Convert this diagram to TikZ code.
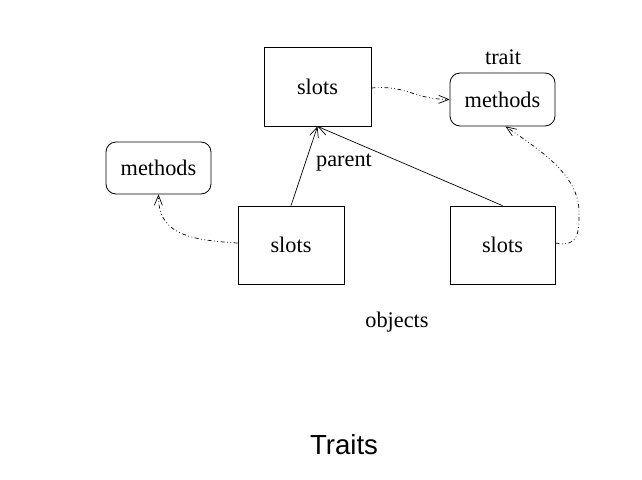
\documentclass[tikz,border=0pt]{standalone}
\usepackage{fontspec}
\setmainfont{Liberation Serif}
\newfontfamily\titlefont{Liberation Sans}
\usetikzlibrary{arrows.meta}
\begin{document}
\begin{tikzpicture}[x=1pt,y=-1pt,
  every node/.style={font=\fontsize{22.3}{26}\selectfont},
  slotbox/.style={draw,line width=0.8pt,minimum width=106pt,minimum height=78pt,inner sep=0pt},
  methbox/.style={draw,line width=0.8pt,rounded corners=10pt,minimum width=105pt,minimum height=52pt,inner sep=0pt},
  parentarrow/.style={line width=0.7pt,-{Straight Barb[length=10pt,width=9pt,line width=0.7pt]}},
  traitlink/.style={line width=0.7pt,dash pattern=on 4pt off 2.5pt on 0.8pt off 2.5pt on 0.8pt off 2.5pt,
    -{Straight Barb[length=10pt,width=8pt,line width=0.7pt]}},
  lbl/.style={inner sep=0pt}]
\useasboundingbox (0,0) rectangle (642,479);
\node[slotbox,minimum width=107pt,minimum height=79pt] (top) at (317.5,86.5) {slots};
\node[methbox,minimum height=53pt] (trait) at (502.5,99.5) {methods};
\node[methbox] (lmeth) at (158.5,168) {methods};
\node[slotbox] (bl) at (291,245) {slots};
\node[slotbox,minimum width=105pt] (br) at (502.5,245) {slots};
\node[lbl] (traitlbl) at (503,57) {trait};
\node[lbl] (parentlbl) at (344,163) {parent};
\node[lbl] (objlbl) at (397,322) {objects};
\node[lbl,font=\titlefont\fontsize{27.6}{32}\selectfont] (title) at (344,445) {Traits};
\draw[parentarrow] (bl.north) -- (top.south);
\draw[parentarrow] (br.north) -- (top.south);
\coordinate (a1) at ([yshift=-1.5pt]top.east);
\draw[traitlink] (a1) .. controls (408,85) and (412,99) .. (trait.west);
\coordinate (a2) at ([yshift=2pt]bl.west);
\draw[traitlink] (a2) .. controls (185,240) and (158,232) .. (lmeth.south);
\coordinate (a3) at ([yshift=2pt]br.east);
\coordinate (m3) at (579,212);
\coordinate (e3) at ([xshift=3pt]trait.south);
\draw[traitlink] (a3) .. controls (578,247) and (579,235) .. (m3) .. controls (579,175) and (540,150) .. (e3);
\end{tikzpicture}
\end{document}
